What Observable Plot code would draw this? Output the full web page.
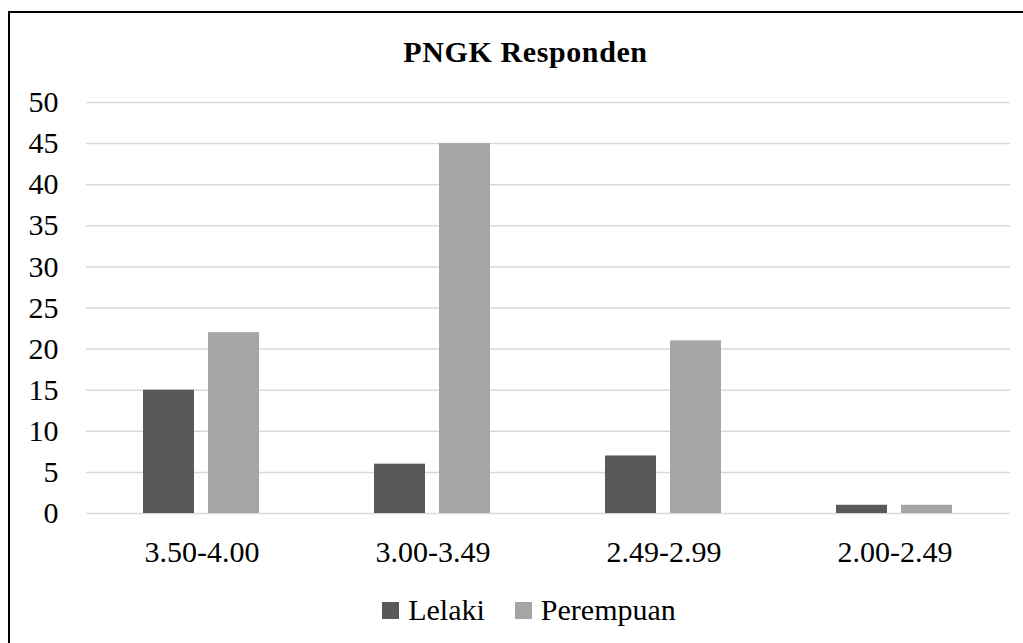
<!DOCTYPE html>
<html>
<head>
<meta charset="utf-8">
<script src="https://cdn.jsdelivr.net/npm/d3@7"></script>
<script src="https://cdn.jsdelivr.net/npm/@observablehq/plot@0.6"></script>
<style>
  html, body { margin: 0; padding: 0; background: #fff; overflow: hidden; }
  #wrap { position: relative; width: 1023px; height: 643px; overflow: hidden; background: #fff;
          font-family: "Liberation Serif", "Times New Roman", serif; }
  #frame { position: absolute; left: 8px; top: 11px; width: 1100px; height: 700px;
           border-left: 2px solid #000; border-top: 2px solid #000; }
  #title { position: absolute; left: 0; top: 37px; width: 1051px; text-align: center;
           font-size: 30px; line-height: 30px; font-weight: bold; letter-spacing: 0.6px; color: #000; }
  #chart { position: absolute; left: 0; top: 80px; }
  #legend { position: absolute; left: 0; top: 595px; width: 1058px; display: flex;
            justify-content: center; align-items: center; font-size: 30px; line-height: 30px; color: #000; }
  .item { display: flex; align-items: center; }
  .item + .item { margin-left: 30px; }
  .sw { width: 17px; height: 17px; margin-right: 9px; }
</style>
</head>
<body>
<div id="wrap">
  <div id="frame"></div>
  <div id="title">PNGK Responden</div>
  <div id="chart"></div>
  <div id="legend"></div>
</div>
<script>
const categories = ["3.50-4.00", "3.00-3.49", "2.49-2.99", "2.00-2.49"];
const seriesNames = ["Lelaki", "Perempuan"];
const lelaki = [15, 6, 7, 1];
const perempuan = [22, 45, 21, 1];
const yTicks = [0, 5, 10, 15, 20, 25, 30, 35, 40, 45, 50];
const colors = ["#595959", "#a5a5a5"];

const data = [];
categories.forEach((c, i) => {
  data.push({cat: c, sex: seriesNames[0], value: lelaki[i]});
  data.push({cat: c, sex: seriesNames[1], value: perempuan[i]});
});

const chart = Plot.plot({
  width: 1023,
  height: 500,
  marginTop: 22,
  marginBottom: 67,
  marginLeft: 85,
  marginRight: 12,
  style: {fontFamily: "'Liberation Serif', 'Times New Roman', serif", background: "transparent", overflow: "visible"},
  fx: {domain: categories, padding: 0, axis: null, label: null},
  x: {domain: seriesNames, paddingInner: 0.212, paddingOuter: 0.86, axis: null, label: null},
  y: {domain: [0, 50], axis: null, label: null},
  color: {domain: seriesNames, range: colors},
  marks: [
    Plot.gridY(yTicks, {stroke: "#d9d9d9", strokeOpacity: 1, strokeWidth: 1.5}),
    Plot.barY(data, {fx: "cat", x: "sex", y: "value", fill: "sex"}),
    Plot.axisY(yTicks, {tickSize: 0, tickPadding: 28, fontSize: 30, fill: "#000", tickFormat: d => String(d), label: null}),
    Plot.axisFx({anchor: "bottom", tickSize: 0, tickPadding: 27, fontSize: 30, fill: "#000", label: null})
  ]
});
document.getElementById("chart").appendChild(chart);

const legend = document.getElementById("legend");
seriesNames.forEach((s, i) => {
  const it = document.createElement("div");
  it.className = "item";
  const sw = document.createElement("div");
  sw.className = "sw";
  sw.style.background = colors[i];
  const t = document.createElement("span");
  t.textContent = s;
  it.appendChild(sw);
  it.appendChild(t);
  legend.appendChild(it);
});
</script>
</body>
</html>
